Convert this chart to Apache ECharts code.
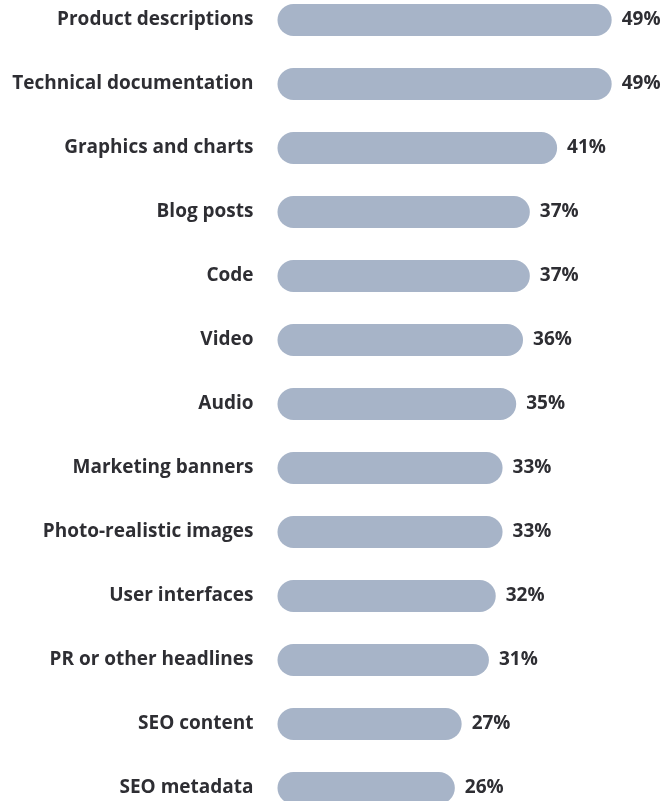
<!DOCTYPE html>
<html>
<head>
<meta charset="utf-8">
<script src="https://cdn.jsdelivr.net/npm/echarts@6/dist/echarts.min.js"></script>
<style>
  html, body { margin: 0; padding: 0; background: #ffffff; }
  #chart { width: 668px; height: 801px; }
</style>
</head>
<body>
<div id="chart"></div>
<script>
// Content types and the share of respondents for each
const categories = [
  'Product descriptions',
  'Technical documentation',
  'Graphics and charts',
  'Blog posts',
  'Code',
  'Video',
  'Audio',
  'Marketing banners',
  'Photo-realistic images',
  'User interfaces',
  'PR or other headlines',
  'SEO content',
  'SEO metadata'
];
const values = [49, 49, 41, 37, 37, 36, 35, 33, 33, 32, 31, 27, 26];

const textColor = '#2e2e33';
const barColor = '#a7b4c8';
const fontFamily = '"Open Sans", Lato, sans-serif';

const chart = echarts.init(document.getElementById('chart'), null, { renderer: 'canvas' });
chart.setOption({
  animation: false,
  // rows sit on the tick points, 64px apart
  grid: { left: 277.5, width: 341, top: 20, height: 768, containLabel: false },
  xAxis: {
    type: 'value', min: 0, max: 50,
    show: false
  },
  yAxis: {
    type: 'category',
    data: categories,
    inverse: true,
    boundaryGap: false,
    axisLine: { show: false },
    axisTick: { show: false },
    splitLine: { show: false },
    axisLabel: {
      margin: 24,
      color: textColor,
      fontFamily: fontFamily,
      fontWeight: 'bold',
      fontSize: 19
    }
  },
  series: [{
    type: 'bar',
    data: values,
    barWidth: 32,
    itemStyle: { color: barColor, borderRadius: 16 },
    label: {
      show: true,
      position: 'right',
      distance: 10,
      formatter: '{c}%',
      color: textColor,
      fontFamily: fontFamily,
      fontWeight: 'bold',
      fontSize: 19
    }
  }]
});
</script>
</body>
</html>
